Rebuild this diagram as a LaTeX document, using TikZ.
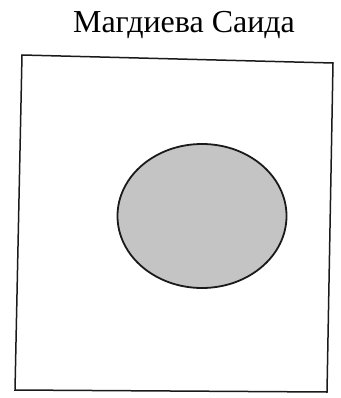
\documentclass[tikz,border=0pt]{standalone}
\usepackage{fontspec}
\setmainfont{Liberation Serif}
\usepackage{xcolor}
\usetikzlibrary{shapes.geometric}
\definecolor{ink}      {HTML}{1A1A1A}
\definecolor{spotgray} {HTML}{C4C4C4}

\begin{document}
\begin{tikzpicture}[x=1pt,y=-1pt]
          \useasboundingbox (0,0) rectangle (340,398);
          \node[anchor=base,inner sep=0pt,font=\fontsize{32}{38}\selectfont] (title) at (184,33) {Магдиева Саида};
          % frame (slightly skewed, as scanned)
          \draw[ink,line width=1.5pt,line join=miter]
                (22,55) -- (333,63) -- (327,392) -- (15,390) -- cycle;
          \node[draw=ink,line width=1.8pt,fill=spotgray,ellipse,
                minimum width=169pt,minimum height=144pt,inner sep=0pt] (spot) at (202,216) {};
        \end{tikzpicture}
\end{document}
